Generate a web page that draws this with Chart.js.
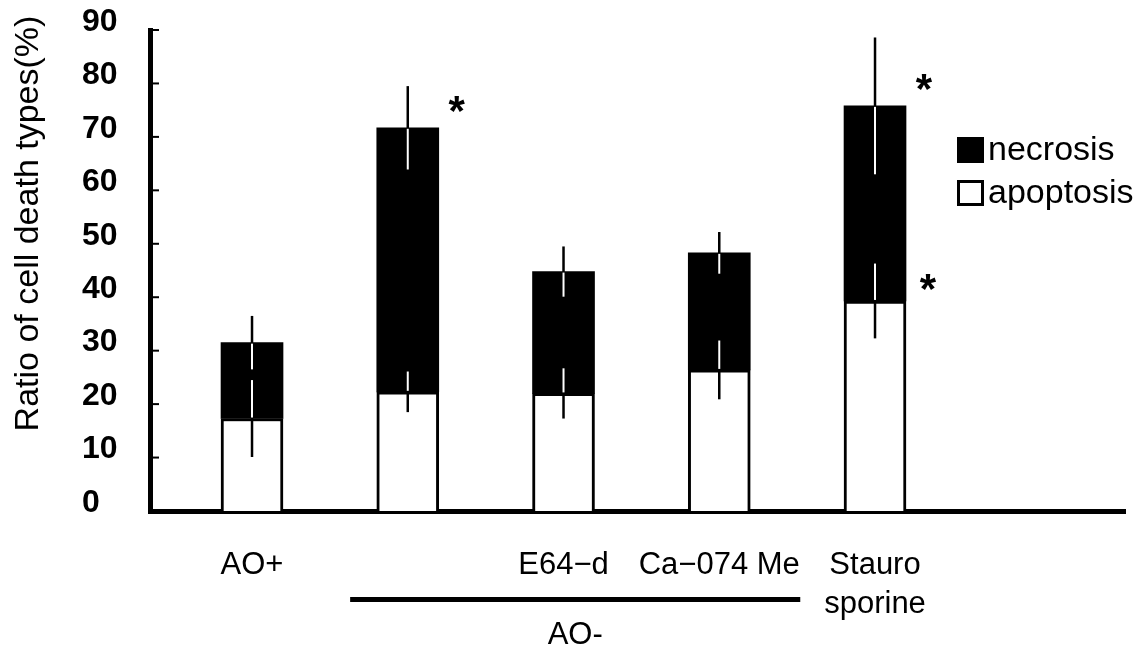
<!DOCTYPE html>
<html>
<head>
<meta charset="utf-8">
<script src="https://cdn.jsdelivr.net/npm/chart.js@4.4.1/dist/chart.umd.min.js"></script>
<style>
  html, body { margin: 0; padding: 0; background: #fff; }
  #wrap { width: 1140px; height: 650px; }
</style>
</head>
<body>
<div id="wrap"><canvas id="chart"></canvas></div>
<script>
// values (% of cells)
const categories = ['AO+', '', 'E64−d', 'Ca−074 Me', ['Stauro', 'sporine']];
const apoptosis = [17.3, 22.3, 22.0, 26.4, 39.3];
const necrosis = [14.2, 49.4, 22.8, 21.9, 36.5];
const apoptosisErr = [7.2, 3.8, 4.7, 5.5, 7.0];
const necrosisErr = [5.0, 7.8, 4.7, 3.9, 12.8];
const necrosisSig = [false, true, false, false, true];
const apoptosisSig = [false, false, false, false, true];
const yTickValues = [0, 10, 20, 30, 40, 50, 60, 70, 80, 90];
const groupLabel = 'AO-';
const groupSpan = [1.63, 4.52]; // bracket under AO- groups, in category units

const FONT = "'Liberation Sans', Arial, sans-serif";

const toPoints = arr => arr.map((v, i) => ({ x: i + 1, y: v }));

// error bars: black outside the black segment, white inside it
const errorBars = {
  id: 'errorBars',
  afterDatasetsDraw(chart) {
    const ctx = chart.ctx;
    const y = chart.scales.y;
    const necMeta = chart.getDatasetMeta(1);
    ctx.save();
    categories.forEach((c, i) => {
      const x = necMeta.data[i].x;
      const blackTop = y.getPixelForValue(apoptosis[i] + necrosis[i]);
      const blackBot = y.getPixelForValue(apoptosis[i]);
      const segs = [
        [apoptosis[i] + necrosis[i], necrosisErr[i]],
        [apoptosis[i], apoptosisErr[i]]
      ];
      segs.forEach(([v, e]) => {
        const y1 = y.getPixelForValue(v + e);
        const y2 = y.getPixelForValue(v - e);
        ctx.strokeStyle = '#000';
        ctx.lineWidth = 2.5;
        ctx.beginPath();
        ctx.moveTo(x, y1);
        ctx.lineTo(x, y2);
        ctx.stroke();
        const a = Math.max(y1, blackTop + 1);
        const b = Math.min(y2, blackBot - 1);
        if (b > a) {
          ctx.strokeStyle = '#fff';
          ctx.lineWidth = 2;
          ctx.beginPath();
          ctx.moveTo(x, a);
          ctx.lineTo(x, b);
          ctx.stroke();
        }
      });
    });
    ctx.restore();
  }
};

// asterisks, inward y ticks, group bracket, y title and legend
const decorations = {
  id: 'decorations',
  afterDraw(chart) {
    const ctx = chart.ctx;
    const area = chart.chartArea;
    const x = chart.scales.x;
    const y = chart.scales.y;
    const necMeta = chart.getDatasetMeta(1);
    ctx.save();

    // inward tick marks
    ctx.strokeStyle = '#000';
    ctx.lineWidth = 2;
    yTickValues.forEach(v => {
      const py = y.getPixelForValue(v);
      ctx.beginPath();
      ctx.moveTo(area.left, py);
      ctx.lineTo(area.left + 9, py);
      ctx.stroke();
    });

    // significance stars
    ctx.fillStyle = '#000';
    ctx.font = 'bold 42px ' + FONT;
    ctx.textAlign = 'center';
    ctx.textBaseline = 'middle';
    categories.forEach((c, i) => {
      const bar = necMeta.data[i];
      const sx = bar.x + bar.width / 2 + 18;
      if (necrosisSig[i]) {
        ctx.fillText('*', sx, y.getPixelForValue(apoptosis[i] + necrosis[i]) - 14);
      }
      if (apoptosisSig[i]) {
        ctx.fillText('*', sx + 4, y.getPixelForValue(apoptosis[i]) - 10);
      }
    });

    // AO- bracket
    const gx1 = x.getPixelForValue(groupSpan[0]);
    const gx2 = x.getPixelForValue(groupSpan[1]);
    const gy = area.bottom + 86;
    ctx.fillRect(gx1, gy, gx2 - gx1, 5);
    ctx.font = '31px ' + FONT;
    ctx.textBaseline = 'middle';
    ctx.fillText(groupLabel, (gx1 + gx2) / 2, gy + 38);

    // y axis title
    ctx.save();
    ctx.translate(29, (area.top + area.bottom) / 2 - 47);
    ctx.rotate(-Math.PI / 2);
    ctx.font = '34px ' + FONT;
    ctx.textAlign = 'center';
    ctx.fillText('Ratio of cell death types(%)', 0, 0);
    ctx.restore();

    // legend, necrosis first
    const lx = area.right - 168;
    const items = [chart.data.datasets[1], chart.data.datasets[0]];
    ctx.font = '34px ' + FONT;
    ctx.textAlign = 'left';
    items.forEach((ds, k) => {
      const ly = area.top + 107 + k * 43;
      ctx.fillStyle = ds.backgroundColor;
      ctx.fillRect(lx, ly, 27, 26);
      ctx.strokeStyle = '#000';
      ctx.lineWidth = 3;
      ctx.strokeRect(lx + 1.5, ly + 1.5, 24, 23);
      ctx.fillStyle = '#000';
      ctx.fillText(ds.label, lx + 31, ly + 14);
    });

    ctx.restore();
  }
};

new Chart(document.getElementById('chart'), {
  type: 'bar',
  data: {
    datasets: [
      {
        label: 'apoptosis',
        data: toPoints(apoptosis),
        backgroundColor: '#fff',
        borderColor: '#000',
        borderWidth: 3,
        borderSkipped: 'start',
        barThickness: 62
      },
      {
        label: 'necrosis',
        data: toPoints(necrosis),
        backgroundColor: '#000',
        borderColor: '#000',
        borderWidth: 0,
        barThickness: 62
      }
    ]
  },
  options: {
    responsive: true,
    maintainAspectRatio: false,
    animation: false,
    layout: { padding: { left: 82, top: 30, right: 15, bottom: 0 } },
    plugins: {
      legend: { display: false },
      tooltip: { enabled: false }
    },
    scales: {
      x: {
        type: 'linear',
        stacked: true,
        offset: false,
        min: 0.345,
        max: 6.605,
        afterBuildTicks(scale) {
          scale.ticks = categories.map((c, i) => ({ value: i + 1 }));
        },
        afterFit(scale) { scale.height = 139; },
        grid: { display: false, drawTicks: false },
        border: { display: true, width: 5, color: '#000' },
        ticks: {
          autoSkip: false,
          maxRotation: 0,
          padding: 35,
          color: '#000',
          font: { family: FONT, size: 31, lineHeight: 1.25 },
          callback: value => categories[Math.round(value) - 1]
        }
      },
      y: {
        stacked: true,
        min: 0,
        max: 90,
        afterBuildTicks(scale) {
          scale.ticks = yTickValues.map(v => ({ value: v }));
        },
        afterFit(scale) { scale.width = 68; },
        grid: { display: false, drawTicks: false },
        border: { display: true, width: 5, color: '#000' },
        ticks: {
          crossAlign: 'far',
          labelOffset: -8,
          color: '#000',
          font: { family: FONT, size: 32, weight: 'bold' }
        }
      }
    }
  },
  plugins: [errorBars, decorations]
});
</script>
</body>
</html>
